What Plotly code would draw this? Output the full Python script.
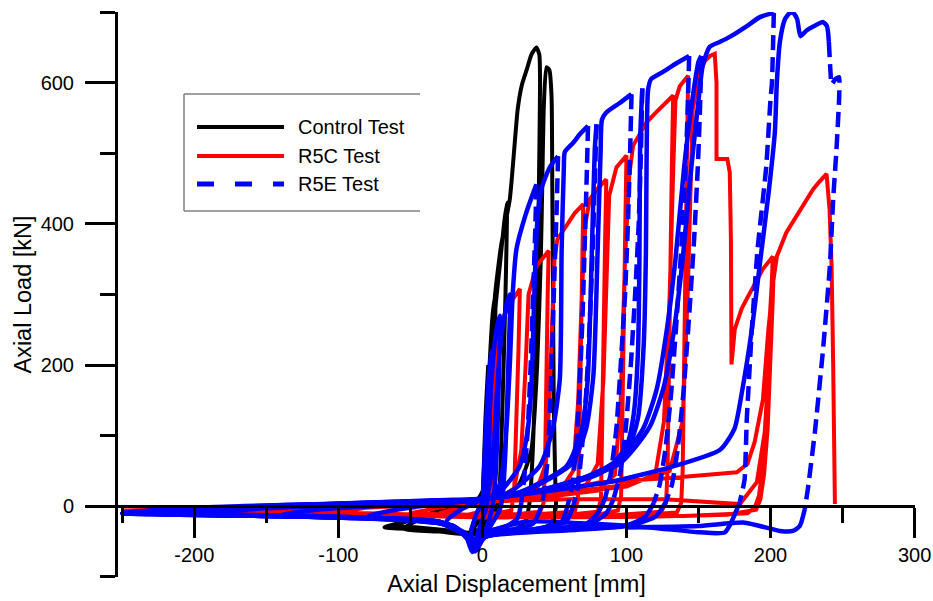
import plotly.graph_objects as go

# ---------------- data (displacement mm, load kN) ----------------
control_x = [0, 2, 4, 3, 1, -4, -8, -3, 1, 4, 7, 9, 8, 6, 4, 0, -10, -40, -68, -50, -20, -5, 2, 6, 9, 12, 15, 17, 16, 14, 12, 10, 5, -5, -30, -55, -40, -10, 4, 6, 8.5, 13, 19, 24.5, 27.5, 30.8, 34, 37.5, 39.5, 40, 39.5, 38.5, 37, 35, 33, 30, 22, 10, 0, -15, -45, -60, -40, -10, 10, 25, 34, 38, 40.5, 41.5, 42.5, 44.4, 46.5, 48, 48.5, 49, 49.5, 50.5, 51, 48, 35, 22]
control_y = [0, 120, 200, 90, 0, -25, -35, -5, 10, 160, 270, 300, 180, 40, 0, -30, -38, -33, -30, -20, -5, 5, 30, 150, 280, 340, 400, 430, 300, 150, 30, 0, -30, -40, -36, -32, -15, 2, 20, 100, 293, 370, 435, 563, 598, 619, 640, 650, 640, 600, 500, 350, 200, 80, 10, -20, -35, -38, -40, -36, -30, -28, -12, 2, 10, 30, 80, 200, 350, 450, 560, 622, 618, 580, 450, 300, 150, 40, 0, -25, -35, -37]

r5c_x = [0, 2, 4, 3, 1, -4, -2, 0, 3, 6, 9, 8, 6, 4, -10, -30, -15, 0, 4, 7, 10.6, 15, 21, 26,
         25, 23.5, 22, 20, 10, 0, -20, -50,
         -30, -5, 10, 22, 27, 30, 32, 37.5, 42, 46,
         45.3, 44.5, 43.5, 42.5, 40, 25, 0, -40, -100,
         -80, -30, 0, 20, 38, 44, 46.5, 48.5, 50, 52, 58, 64, 70,
         69.2, 68.3, 67.3, 66.3, 64, 40, 10, -60, -200,
         -150, -60, 0, 30, 55, 63, 66.5, 69, 71.5, 74.5, 80, 86,
         85.2, 84.3, 83.3, 82.3, 80, 60, 20, -50, -150,
         -100, -30, 10, 45, 72, 80, 84, 86.5, 88, 93, 100,
         99.2, 98.3, 97.3, 96.3, 94, 80, 40, 0, -80, -200,
         -150, -50, 0, 40, 80, 92, 96, 99, 102, 104.6, 114, 120, 128, 132.4,
         131.5, 130.5, 129.5, 128.5, 127.5, 124, 90, 40, 0, -100, -230,
         -150, -50, 0, 50, 100, 120, 126, 130, 132.5, 134, 137, 142.8,
         142, 141, 140, 139, 138, 135, 100, 50, 0, -100, -250,
         -200, -100, 0, 50, 100, 130, 139, 142.5, 144.5, 146, 151, 154.5, 158, 161.3,
         162.5, 162.5, 170, 171.7, 172.5, 172.9, 172.9,
         175.2, 180, 183.3, 189, 194.7, 201.6,
         200.5, 199, 197, 194.5, 192, 189, 184, 140, 80, 0, -100, -250,
         -150, 0, 60, 126.6, 178.7, 190.5, 196, 197.4, 199, 201, 202.5,
         201.5, 200, 198, 195.5, 193, 190, 170, 120, 40, -50, -120,
         -80, 0, 40, 81.4, 130, 176.6, 184, 189, 194.7, 198.5, 202, 204.4, 211, 218, 226, 229.5, 234, 238.9,
         241, 242.4, 243.5, 244.2, 244.7]
r5c_y = [0, 80, 140, 60, 0, -10, -5, 2, 100, 180, 230, 120, 20, -5, -12, -10, -2, 5, 30, 100, 247, 270, 293, 308,
         220, 100, 20, -6, -10, -12, -12, -10,
         -2, 4, 10, 25, 80, 200, 300, 340, 352, 362,
         300, 180, 60, 5, -8, -11, -13, -12, -9,
         -2, 3, 8, 14, 25, 60, 150, 280, 350, 378, 397, 415, 428,
         350, 220, 90, 10, -8, -11, -13, -11, -7,
         -2, 3, 8, 15, 25, 50, 150, 300, 400, 435, 450, 463,
         380, 230, 90, 10, -8, -12, -14, -12, -8,
         -1, 5, 10, 18, 30, 60, 180, 350, 440, 480, 497,
         400, 250, 100, 15, -6, -12, -14, -15, -11, -7,
         -1, 5, 8, 12, 22, 45, 150, 350, 470, 511, 544, 557, 572, 582,
         480, 330, 170, 50, 5, -8, -13, -15, -16, -11, -7,
         0, 5, 9, 17, 28, 45, 120, 300, 480, 575, 595, 610,
         500, 350, 170, 50, 5, -9, -14, -15, -16, -10, -7,
         -3, 2, 8, 18, 30, 50, 120, 300, 480, 563, 615, 631, 638, 641,
         600, 492, 492, 473, 380, 293, 201,
         251, 280, 293, 315, 336, 354,
         290, 200, 120, 55, 15, -2, -10, -14, -15, -15, -10, -6,
         -1, 6, 10, 10, 3, 34, 105, 152, 250, 320, 354,
         290, 200, 110, 45, 10, -5, -12, -15, -16, -12, -8,
         -2, 7, 15, 34, 40, 48, 60, 91, 151, 250, 320, 354, 388, 411, 435, 449, 460, 471,
         420, 340, 200, 80, 3]

# R5E: loading / reloading / compression paths (None separates pieces)
r5e_x = [0, 2, 4, 6, 5, 4, 3, -2, -5, -8, -4, 0, 3, 6, 9, 12, 11, 9, 7, 3, -3, -7, -12, -25, -15, -5, 3, 7, 10, 13, 17.6, 19, 18, 16, 14, 12, 5, -2, -6, -10, -20, -50, -80, -60, -30, -5, 5, 12, 16, 19, 21, 23.6, 30.6, 37.5, None,
         27, 24, 15, 5, 0, -4, -8, -20, -60, -100, -140, -110, -60, -20, 0, 12, 25.9, 31.5, 34.2, 36, 38, 41, 46.7, 52.5, None,
         40, 35, 20, 5, 0, -5, -10, -25, -80, -150, -200, -150, -80, -30, 0, 19, 39.8, 48.8, 53.7, 55, 56.5, 57.2, 63, 68, 73.3, None,
         59, 55, 40, 20, 0, -5, -10, -30, -100, -180, -250, -200, -120, -50, 0, 25.9, 58.5, 69, 73.1, 76, 78, 79.2, None,
         63, 58, 40, 0, -5, -10, -30, -120, -220, -160, -60, 0, 30, 62, 72, 77, 80, 82, 83, 86, 95, 103.5, None,
         85, 80, 72, 50, 20, 0, -5, -12, -30, -120, -250, -180, -80, -10, 10, 35, 70, 90, 100, 105, 108, 109, 109.5, 111, None,
         91, 86, 75, 50, 0, -5, -12, -30, -130, -250, -170, -70, 0, 40, 80, 100, 108, 112, 113.5, 114, 115, 117, 125, 135, 143.5, None,
         119, 113, 100, 60, 20, 0, -5, -12, -30, -150, -250, -200, -100, -20, 0, 35, 90.5, 111.3, 121, 128, 134, 140, 146, 150, 152, None,
         127, 120, 100, 60, 0, -5, -12, -30, -150, -250, -190, -90, 0, 40, 95, 116, 126, 133, 139, 145, 150, 153, 157.8, 165, 171.7, 183.3, 192.6, 202.3, None,
         178.7, 173.8, 168.3, 150.9, 116, 67.6, 30, 0, -5, -12, -30, -120, -250, -180, -60, 0, 40, 90, 130, 165, 175, 180, 187, 193, 199, 203, 204.4, 206.5, 210, 213.4, 215.7, 218.5, 220.8, 225, 230, 236.5, 239.2, 240.5, None,
         223.8, 220.3, 215.5, 206.5, 192.6, 180.8, 150, 100]
r5e_y = [0, 90, 170, 220, 120, 30, 0, -30, -50, -40, -10, 5, 60, 170, 240, 270, 150, 40, 0, -30, -55, -65, -40, -22, -5, 5, 15, 60, 160, 240, 293, 300, 200, 80, 15, -5, -30, -50, -62, -48, -28, -20, -14, -5, 3, 8, 12, 30, 90, 200, 300, 364, 417, 456, None,
         5, -18, -30, -35, -45, -62, -50, -28, -18, -15, -12, -4, 2, 8, 8, 20, 57, 109, 180, 300, 400, 450, 480, 496, None,
         -5, -25, -33, -38, -48, -64, -45, -25, -17, -13, -11, -3, 3, 8, 9, 20, 57, 109, 180, 364, 478, 502, 515, 528, 539, None,
         0, -22, -32, -36, -45, -62, -44, -24, -16, -12, -10, -4, 2, 7, 10, 20, 57, 109, 180, 364, 506, 541, None,
         0, -22, -31, -44, -60, -42, -23, -15, -11, -3, 5, 10, 22, 60, 110, 185, 364, 500, 548, 558, 571, 584, None,
         10, -10, -25, -32, -36, -45, -60, -40, -24, -15, -10, -2, 4, 9, 13, 20, 40, 60, 85, 130, 220, 350, 520, 592, None,
         10, -10, -25, -32, -44, -58, -40, -22, -14, -10, -2, 4, 10, 22, 45, 75, 125, 230, 360, 500, 590, 605, 615, 628, 638, None,
         5, -15, -27, -33, -36, -45, -58, -40, -22, -14, -9, -2, 4, 9, 10, 20, 57, 109, 166, 250, 350, 480, 580, 630, 638, None,
         5, -15, -28, -34, -44, -57, -40, -22, -14, -9, -2, 4, 10, 22, 60, 112, 170, 250, 350, 480, 575, 625, 651, 658, 665, 680, 693, 699, None,
         6, -18, -37, -37, -30, -24, -22, -40, -55, -38, -22, -14, -9, -2, 5, 10, 20, 35, 55, 80, 110, 160, 250, 350, 450, 530, 601, 658, 690, 699, 699, 690, 666, 674, 680, 686, 680, 658, None,
         -4, -28, -35, -35, -28, -23, -28, -30]

# R5E: unloading branches (drawn dashed)
r5e_dash_x = [37.5, 36.5, 35, 33.5, 31.5, 29, 27, None,
              52.5, 51.5, 50, 48.5, 47, 45, 42.5, 40, None,
              73.3, 72.3, 71, 69.5, 67.5, 65, 62, 59, None,
              79.2, 78, 76.5, 74.5, 72, 69, 66, 63, None,
              103.5, 102.5, 101, 99, 96, 93, 89, 85, None,
              111, 110, 108.5, 106, 103, 99.5, 95.5, 91, None,
              143.5, 142.5, 141, 138.5, 135, 131, 127, 123, 119, None,
              152, 151, 149.5, 147, 143.5, 139.5, 135.5, 131.5, 127, None,
              202.3, 201, 200, 197, 191, 187, 184.5, 183.5, 182, 178.7, None,
              240.5, 241.5, 242.4, 245, 247.6, 247.6, 245.8, 243.5, 241.2, 236.5, 230.8, 225.9, 223.8]
r5e_dash_y = [456, 380, 290, 200, 110, 40, 5, None,
              496, 420, 330, 230, 140, 60, 15, -5, None,
              539, 460, 370, 270, 170, 80, 25, 0, None,
              541, 460, 360, 260, 160, 80, 25, 0, None,
              584, 500, 400, 300, 200, 110, 45, 10, None,
              592, 500, 400, 300, 200, 110, 45, 10, None,
              638, 560, 480, 380, 270, 160, 80, 30, 5, None,
              638, 560, 480, 380, 270, 160, 80, 30, 5, None,
              699, 600, 577, 480, 364, 250, 160, 123, 38, 6, None,
              658, 620, 598, 605, 608, 577, 506, 435, 340, 223, 105, 24, -4]

series_names = ["Control Test", "R5C Test", "R5E Test"]
series_colors = ["#000000", "#ff0000", "#0000ff"]
x_tick_vals = [-200, -100, 0, 100, 200, 300]
y_tick_vals = [0, 200, 400, 600]

FONT = "Arial, Liberation Sans, Helvetica, sans-serif"

fig = go.Figure()
fig.add_trace(go.Scatter(x=control_x, y=control_y, mode="lines", name=series_names[0],
                         line=dict(color=series_colors[0], width=4, shape="spline", smoothing=0.5),
                         showlegend=False))
fig.add_trace(go.Scatter(x=r5c_x, y=r5c_y, mode="lines", name=series_names[1],
                         line=dict(color=series_colors[1], width=4), showlegend=False))
fig.add_trace(go.Scatter(x=r5e_x, y=r5e_y, mode="lines", name=series_names[2],
                         line=dict(color=series_colors[2], width=4.5, shape="spline", smoothing=0.6),
                         showlegend=False))
fig.add_trace(go.Scatter(x=r5e_dash_x, y=r5e_dash_y, mode="lines", name=series_names[2],
                         line=dict(color=series_colors[2], width=4.5, dash="15px,7px",
                                   shape="spline", smoothing=0.4),
                         showlegend=False))

# plot area in pixels
L, R, T, B = 118, 915, 12, 577
W, H = 933, 601


def px(x):
    return (x - L) / (R - L)


def py(y):
    return (B - y) / (B - T)


# custom legend (box open on the right, long line samples)
shapes = []
box_col = "#808080"
shapes.append(dict(type="line", xref="paper", yref="paper", x0=px(184), x1=px(420), y0=py(94), y1=py(94),
                   line=dict(color=box_col, width=1.5)))
shapes.append(dict(type="line", xref="paper", yref="paper", x0=px(184), x1=px(420), y0=py(211), y1=py(211),
                   line=dict(color=box_col, width=1.5)))
shapes.append(dict(type="line", xref="paper", yref="paper", x0=px(184), x1=px(184), y0=py(94), y1=py(211),
                   line=dict(color=box_col, width=1.5)))
rows = [127, 156, 184]
dashes = ["solid", "solid", "17px,21px"]
widths = [4, 4, 5]
annotations = []
for name, col, rw, ds, wd in zip(series_names, series_colors, rows, dashes, widths):
    shapes.append(dict(type="line", xref="paper", yref="paper", x0=px(197), x1=px(284), y0=py(rw), y1=py(rw),
                       line=dict(color=col, width=wd, dash=ds)))
    annotations.append(dict(xref="paper", yref="paper", x=px(296), y=py(rw), text=name, showarrow=False,
                            xanchor="left", yanchor="middle", font=dict(family=FONT, size=20, color="black")))

fig.update_layout(
    width=W, height=H,
    margin=dict(l=L, r=W - R, t=T, b=H - B, autoexpand=False),
    plot_bgcolor="white", paper_bgcolor="white",
    shapes=shapes, annotations=annotations,
    showlegend=False,
    font=dict(family=FONT, size=20, color="black"),
)
fig.update_xaxes(
    range=[-253, 300.3], anchor="free", position=0.125,
    showline=True, linecolor="black", linewidth=3, zeroline=False, showgrid=False,
    ticks="outside", ticklen=30, tickwidth=3, tickcolor="black",
    tickvals=x_tick_vals, ticktext=[str(v) for v in x_tick_vals],
    tickfont=dict(family=FONT, size=20, color="black"), ticklabelstandoff=0,
    minor=dict(ticks="outside", ticklen=15, tickwidth=3, tickcolor="black", dtick=50, tick0=0, showgrid=False),
    title=dict(text="Axial Displacement [mm]", font=dict(family=FONT, size=23.5, color="black"), standoff=10),
    automargin=False,
)
fig.update_yaxes(
    range=[-100.3, 700.3], domain=[0, 1],
    showline=True, linecolor="black", linewidth=3, zeroline=False, showgrid=False,
    ticks="outside", ticklen=30, tickwidth=3, tickcolor="black",
    tickvals=y_tick_vals, ticktext=[str(v) for v in y_tick_vals],
    tickfont=dict(family=FONT, size=20, color="black"), ticklabelstandoff=7,
    minor=dict(ticks="outside", ticklen=15, tickwidth=3, tickcolor="black", dtick=100, tick0=0, showgrid=False),
    title=dict(text="Axial Load [kN]", font=dict(family=FONT, size=23.5, color="black"), standoff=3),
    automargin=False,
)

fig.write_html("out.html", config={"displayModeBar": False},
               post_script="document.body.style.margin='0px';document.body.style.padding='0px';")
